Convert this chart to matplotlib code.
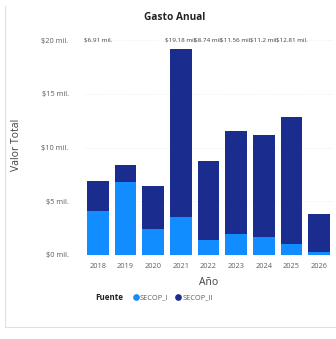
import matplotlib
matplotlib.use("Agg")
import matplotlib.pyplot as plt
from matplotlib.lines import Line2D

years = ['2018', '2019', '2020', '2021', '2022', '2023', '2024', '2025', '2026']
secop_i = [4.1, 6.8, 2.4, 3.5, 1.4, 2.0, 1.7, 1.0, 0.3]
secop_ii = [2.81, 1.6, 4.0, 15.68, 7.34, 9.56, 9.5, 11.81, 3.5]
label_years = ['2018', '2021', '2022', '2023', '2024', '2025']
yticks = [0, 5, 10, 15, 20]
ytick_labels = ['$0 mil.', '$5 mil.', '$10 mil.', '$15 mil.', '$20 mil.']

c_light = '#118DFF'
c_dark = '#1A2D8F'
txt_grey = '#605E5C'

plt.rcParams['font.family'] = ['Open Sans', 'DejaVu Sans']

W, H = 336, 339
fig = plt.figure(figsize=(W / 100, H / 100), dpi=100)
fig.patch.set_facecolor('white')

ax = fig.add_axes([84 / W, 1 - 255 / H, (333 - 84) / W, (255 - 35) / H])
x = list(range(len(years)))
ax.bar(x, secop_i, width=0.78, color=c_light, zorder=3)
ax.bar(x, secop_ii, width=0.78, bottom=secop_i, color=c_dark, zorder=3)

ax.set_xlim(-0.5, len(years) - 0.5)
ax.set_ylim(0, 20.47)
ax.set_yticks(yticks)
ax.set_yticklabels(ytick_labels)
ax.set_xticks(x)
ax.set_xticklabels(years)
ax.tick_params(axis='both', length=0, labelsize=5.3, colors=txt_grey)
ax.tick_params(axis='y', pad=11)
ax.tick_params(axis='x', pad=6)
ax.grid(axis='y', color='#E6E6E6', linestyle=(0, (1, 2)), linewidth=0.5, zorder=0)
for s in ax.spines.values():
    s.set_visible(False)

ax.set_xlabel('Año', fontsize=7.5, color='#404040', labelpad=5)
ax.set_ylabel('Valor Total', fontsize=7.5, color='#404040', labelpad=14)

# total labels along the top
for yr in label_years:
    i = years.index(yr)
    tot = secop_i[i] + secop_ii[i]
    ax.text(i, 20.0, f'${tot:.2f} mil.'.replace('.20 ', '.2 '), ha='center', va='center',
            fontsize=4.5, color='#404040', zorder=5)

fig.text(175 / W, 1 - 18 / H, 'Gasto Anual', ha='center', va='center',
         fontsize=7.3, fontweight='bold', color='#252423')

# legend
fig.text(95 / W, 1 - 298 / H, 'Fuente', ha='left', va='center',
         fontsize=5.8, fontweight='bold', color='#252423')
handles = [Line2D([], [], marker='o', linestyle='', color=c_light, markersize=3.8),
           Line2D([], [], marker='o', linestyle='', color=c_dark, markersize=3.8)]
fig.legend(handles, ['SECOP_I', 'SECOP_II'], loc='center left',
           bbox_to_anchor=(129 / W, 1 - 298 / H), ncol=2, frameon=False,
           handlelength=0.8, handletextpad=0.2, columnspacing=0.9,
           fontsize=5.3, borderpad=0, labelcolor=txt_grey)

# card border
fig.add_artist(Line2D([5 / W, 5 / W], [1 - 6 / H, 1 - 327 / H], color='#E0E0E0', lw=0.8,
                      transform=fig.transFigure))
fig.add_artist(Line2D([5 / W, 1], [1 - 327 / H, 1 - 327 / H], color='#E0E0E0', lw=0.8,
                      transform=fig.transFigure))

fig.savefig('out.png', dpi=100)
